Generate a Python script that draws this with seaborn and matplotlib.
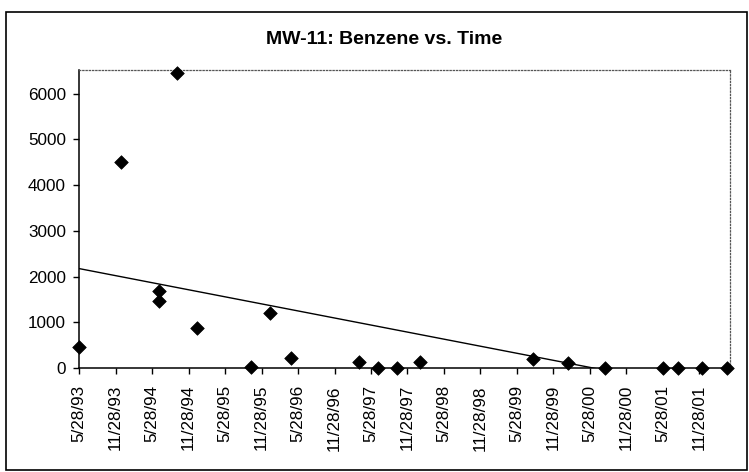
import datetime as dt
import numpy as np
import pandas as pd
import matplotlib
matplotlib.use("Agg")
import matplotlib.pyplot as plt
import matplotlib.dates as mdates
from matplotlib.patches import Rectangle
import seaborn as sns

# ---- data ----
sample_dates = ["1993-05-28", "1993-12-24", "1994-07-02", "1994-07-02", "1994-09-29",
                "1995-01-10", "1995-10-05", "1996-01-09", "1996-04-24", "1997-03-28",
                "1997-07-02", "1997-10-05", "1998-01-30", "1999-08-20", "2000-02-11",
                "2000-08-13", "2001-06-01", "2001-08-15", "2001-12-13", "2002-04-14"]
benzene = [450, 4500, 1690, 1470, 6460,
           880, 30, 1200, 210, 125,
           5, 5, 125, 195, 100,
           5, 5, 5, 5, 5]
tick_dates = ["1993-05-28", "1993-11-28", "1994-05-28", "1994-11-28", "1995-05-28",
              "1995-11-28", "1996-05-28", "1996-11-28", "1997-05-28", "1997-11-28",
              "1998-05-28", "1998-11-28", "1999-05-28", "1999-11-28", "2000-05-28",
              "2000-11-28", "2001-05-28", "2001-11-28"]
tick_labels = ["5/28/93", "11/28/93", "5/28/94", "11/28/94", "5/28/95", "11/28/95",
               "5/28/96", "11/28/96", "5/28/97", "11/28/97", "5/28/98", "11/28/98",
               "5/28/99", "11/28/99", "5/28/00", "11/28/00", "5/28/01", "11/28/01"]
y_ticks = [0, 1000, 2000, 3000, 4000, 5000, 6000]
title = "MW-11: Benzene vs. Time"

df = pd.DataFrame({"date": pd.to_datetime(sample_dates), "benzene": benzene})
df["x"] = mdates.date2num(df["date"])

sns.set_theme(style="white")
plt.rcParams["font.family"] = ["Liberation Sans", "DejaVu Sans"]

fig = plt.figure(figsize=(7.49, 4.72), dpi=100)
ax = fig.add_axes([79/749, 1-368/472, (730-79)/749, (368-70)/472])

sns.regplot(data=df, x="x", y="benzene", ax=ax, scatter=False, ci=None,
            truncate=True, line_kws=dict(color="black", lw=1.0))
sns.scatterplot(data=df, x="x", y="benzene", ax=ax, marker="D", s=48,
                color="black", edgecolor="black", linewidth=0.5, zorder=5,
                clip_on=False)

ax.set_xlim(mdates.date2num(pd.Timestamp("1993-05-28")),
            mdates.date2num(pd.Timestamp("2002-05-01")))
ax.set_ylim(0, 6520)
ax.set_yticks(y_ticks)
ax.set_yticklabels([str(v) for v in y_ticks], fontsize=12.3)
ax.set_xticks(mdates.date2num(pd.to_datetime(tick_dates)))
ax.set_xticklabels(tick_labels, rotation=90, fontsize=12.3)
ax.set_xlabel("")
ax.set_ylabel("")
ax.tick_params(axis="both", which="major", direction="out", length=4.3, width=1,
               color="black", labelcolor="black", bottom=True, left=True)
ax.tick_params(axis="y", pad=5)
ax.tick_params(axis="x", pad=8)

for side in ["left", "bottom"]:
    ax.spines[side].set_color("black")
    ax.spines[side].set_linewidth(1.1)
for side in ["top", "right"]:
    ax.spines[side].set_visible(True)
    ax.spines[side].set_color("#555555")
    ax.spines[side].set_linewidth(0.9)
    ax.spines[side].set_linestyle((0, (1.0, 1.6)))

fig.text(384/749, 1-40/472, title, ha="center", va="center",
         fontsize=14, fontweight="bold", color="black")

fig.patches.append(Rectangle((6/749, 1-470/472), (747-6)/749, (470-12)/472,
                             transform=fig.transFigure, fill=False,
                             edgecolor="black", linewidth=1.2))

fig.savefig("out.png", dpi=100, facecolor="white")
